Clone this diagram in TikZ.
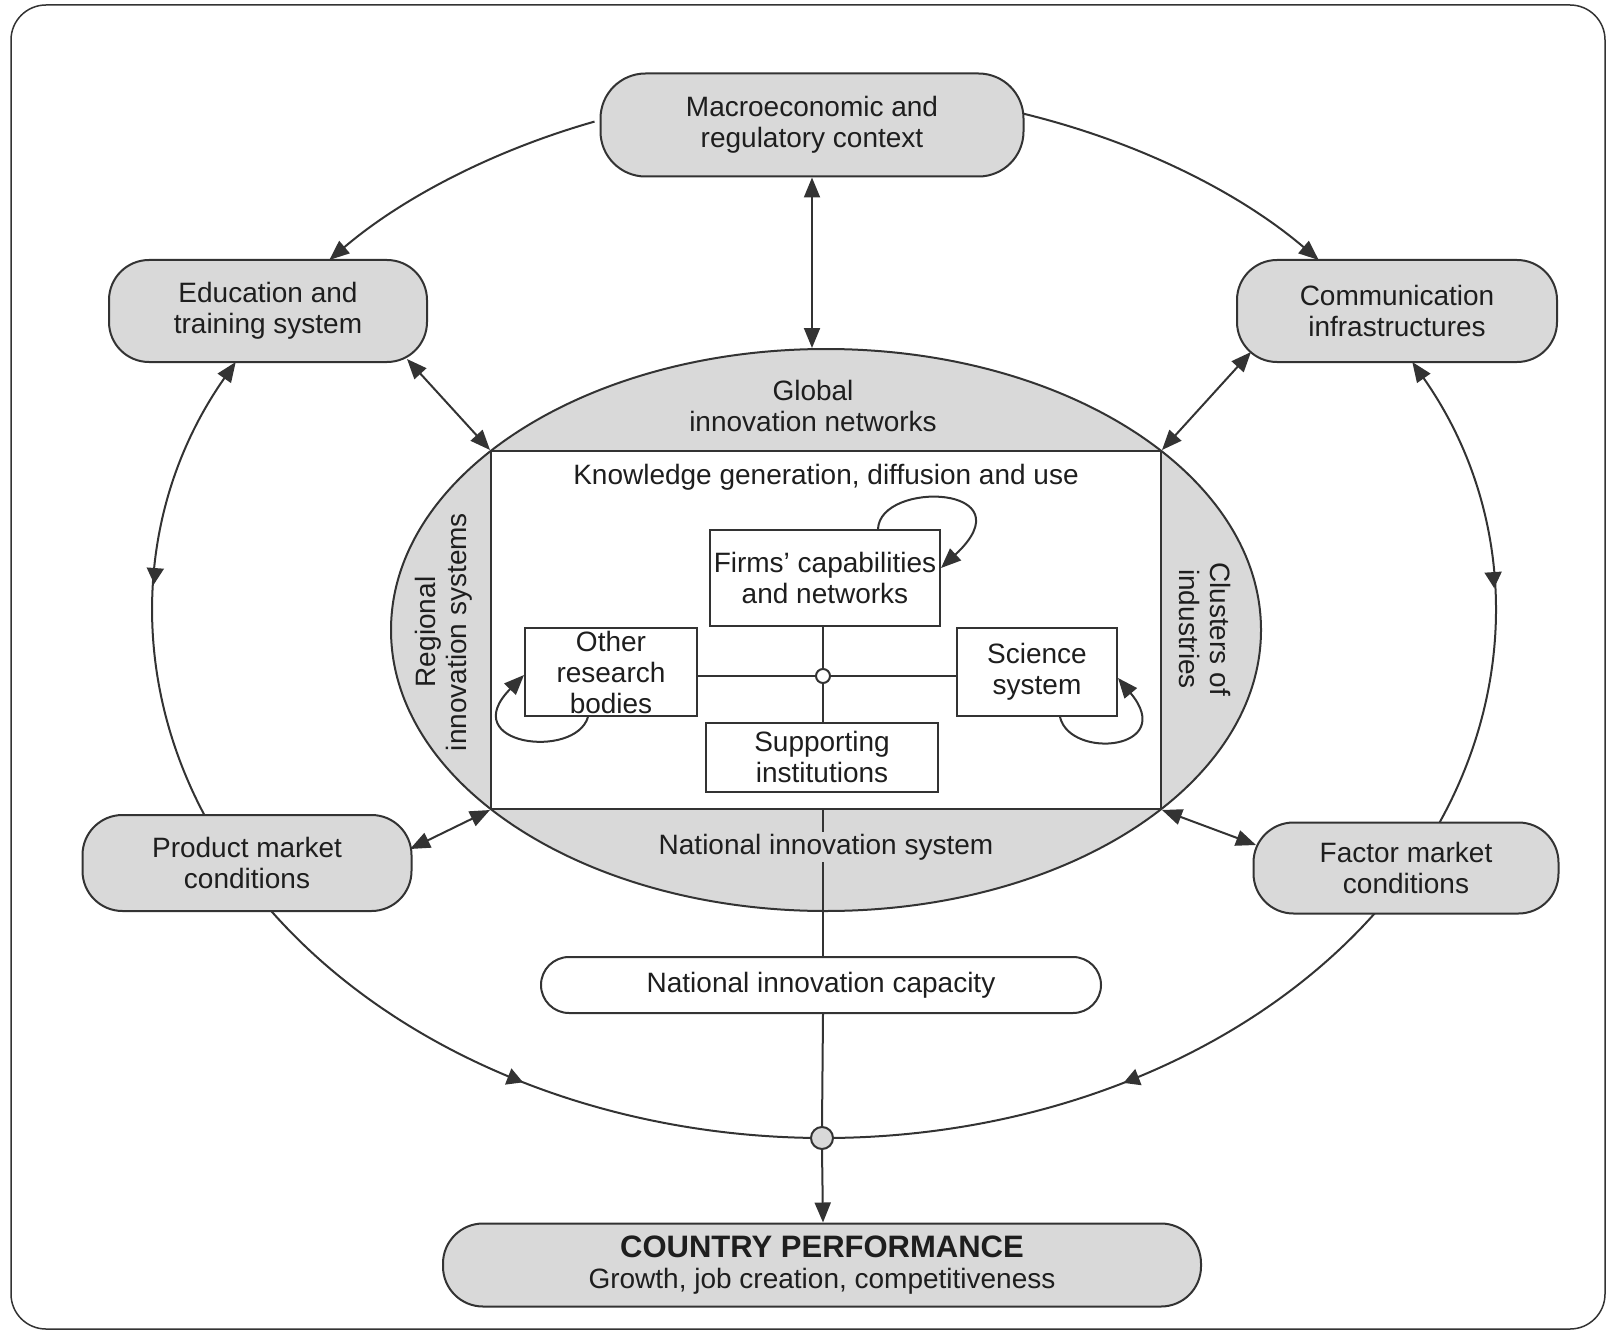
\documentclass[tikz,border=0pt]{standalone}
\usepackage{fontspec}
\setmainfont{Liberation Sans}
\usetikzlibrary{arrows.meta,decorations.markings,calc,shapes.geometric}
\definecolor{lc}{HTML}{333333}
\definecolor{gf}{HTML}{D9D9D9}
\definecolor{tc}{HTML}{1E1E1E}
\newcommand\myfs{\fontsize{28}{31}\selectfont}
\begin{document}
\begin{tikzpicture}[x=1pt,y=1pt, line width=2pt, color=lc, text=tc, font=\myfs,
  >={Triangle[length=20pt,width=16pt]},
  obox/.style={draw=lc, fill=gf, rounded corners=40pt, align=center, inner sep=0pt},
  ibox/.style={draw=lc, fill=white, align=center, inner sep=0pt},
  lbl/.style={align=center, inner sep=0pt},
  midarrow/.style={postaction={decorate}, decoration={markings, mark=at position 0.5 with {\arrow{Triangle[length=16pt,width=17pt]}}}}]
\useasboundingbox (0,0) rectangle (1611,-1332);
% outer frame
\draw[line width=1.5pt, rounded corners=35pt] (11,-5) rectangle (1605,-1329);

% big connecting ellipse arcs
\coordinate (E) at (824,-614);
\draw[->] (E) ++(110:671pt and 524pt) arc[start angle=110,end angle=137.5,x radius=671pt,y radius=524pt];
\draw[->] (E) ++(73.2:671pt and 524pt) arc[start angle=73.2,end angle=42.5,x radius=671pt,y radius=524pt];
\draw[<-,midarrow] (E) ++(151.25:671pt and 524pt) arc[start angle=151.25,end angle=202.55,x radius=671pt,y radius=524pt];
\draw[<-,midarrow] (E) ++(28.75:671pt and 524pt) arc[start angle=28.75,end angle=-23.4,x radius=671pt,y radius=524pt];
\draw[midarrow] (E) ++(214.5:671pt and 524pt) arc[start angle=214.5,end angle=270,x radius=671pt,y radius=524pt];
\draw[midarrow] (E) ++(325.2:671pt and 524pt) arc[start angle=325.2,end angle=270,x radius=671pt,y radius=524pt];

% outer boxes
\node[obox, rounded corners=45pt, minimum width=423pt, minimum height=103pt] (macro) at (812,-125) {Macroeconomic and\\regulatory context};
\node[obox, minimum width=318pt, minimum height=102pt] (edu) at (268,-311) {Education and\\training system};
\node[obox, minimum width=320pt, minimum height=102pt] (comm) at (1397,-311) {Communication\\infrastructures};
\node[obox, minimum width=329pt, minimum height=96pt] (prod) at (247,-863) {Product market\\conditions};
\node[obox, minimum width=305pt, minimum height=91pt] (fact) at (1406,-868) {Factor market\\conditions};

% central ellipse and knowledge rectangle
\node[ellipse, draw=lc, fill=gf, minimum width=870pt, minimum height=562pt, inner sep=0pt] (nis) at (826,-630) {};
\node[draw=lc, fill=white, minimum width=670pt, minimum height=358pt, inner sep=0pt] (kg) at (826,-630) {};

\node[lbl] (glob) at (813,-406) {Global\\innovation networks};
\node[lbl] (kgt) at (826,-477) {Knowledge generation, diffusion and use};
\node[lbl, rotate=90] (reg) at (444,-632) {Regional\\innovation systems};
\node[lbl, rotate=-90] (clu) at (1205,-629) {Clusters of\\industries};

% inner boxes
\node[ibox, minimum width=230pt, minimum height=96pt] (firms) at (825,-578) {Firms’ capabilities\\and networks};
\node[ibox, minimum width=172pt, minimum height=88pt] (other) at (611,-672) {Other\\research\\bodies};
\node[ibox, minimum width=160pt, minimum height=88pt] (science) at (1037,-672) {Science\\system};
\node[ibox, minimum width=232pt, minimum height=69pt] (support) at (822,-757) {Supporting\\institutions};
\node[circle, draw=lc, fill=white, minimum size=14pt, inner sep=0pt] (hub) at (823,-676) {};

\draw (hub.north) -- (hub.north |- firms.south);
\draw (hub.south) -- (hub.south |- support.north);
\draw (hub.west) -- (other.east |- hub.west);
\draw (hub.east) -- (science.west |- hub.east);

% self loops
\draw[->] ($(firms.north)+(53,0)$) .. controls (880,-480) and (1030,-485) .. ($(firms.east)+(0,10)$);
\draw[->] ($(other.south)+(-23,0)$) .. controls (575,-760) and (455,-745) .. ($(other.west)+(0,-3)$);
\draw[->] ($(science.south)+(23,0)$) .. controls (1070,-760) and (1178,-750) .. ($(science.east)+(0,-6)$);

% capacity and performance
\node[draw=lc, fill=white, rounded corners=28pt, minimum width=560pt, minimum height=56pt, inner sep=0pt] (cap) at (821,-985) {National innovation capacity};
\node[obox, minimum width=758pt, minimum height=83pt] (country) at (822,-1265) {{\fontsize{31}{34}\selectfont\bfseries COUNTRY PERFORMANCE}\\Growth, job creation, competitiveness};
\node[circle, draw=lc, fill=gf, minimum size=22pt, inner sep=0pt] (bc) at (822,-1138) {};

\draw (hub |- kg.south) -- (hub |- cap.north);
\node[lbl, fill=gf, inner sep=2pt] (nist) at (826,-847) {National innovation system};
\draw (hub |- cap.south) -- (bc.north);
\draw[->] (bc.south) -- (hub |- country.north);

% double arrows
\coordinate (eduP) at (407,-359);
\coordinate (comP) at (1251,-352);
\coordinate (prodP) at (410,-849);
\coordinate (factP) at (1256,-845);
\draw[<->] (macro.south) -- (macro.south |- nis.north);
\draw[<->] (eduP) -- (kg.north west);
\draw[<->] (comP) -- (kg.north east);
\draw[<->] (prodP) -- (kg.south west);
\draw[<->] (factP) -- (kg.south east);
\end{tikzpicture}
\end{document}
